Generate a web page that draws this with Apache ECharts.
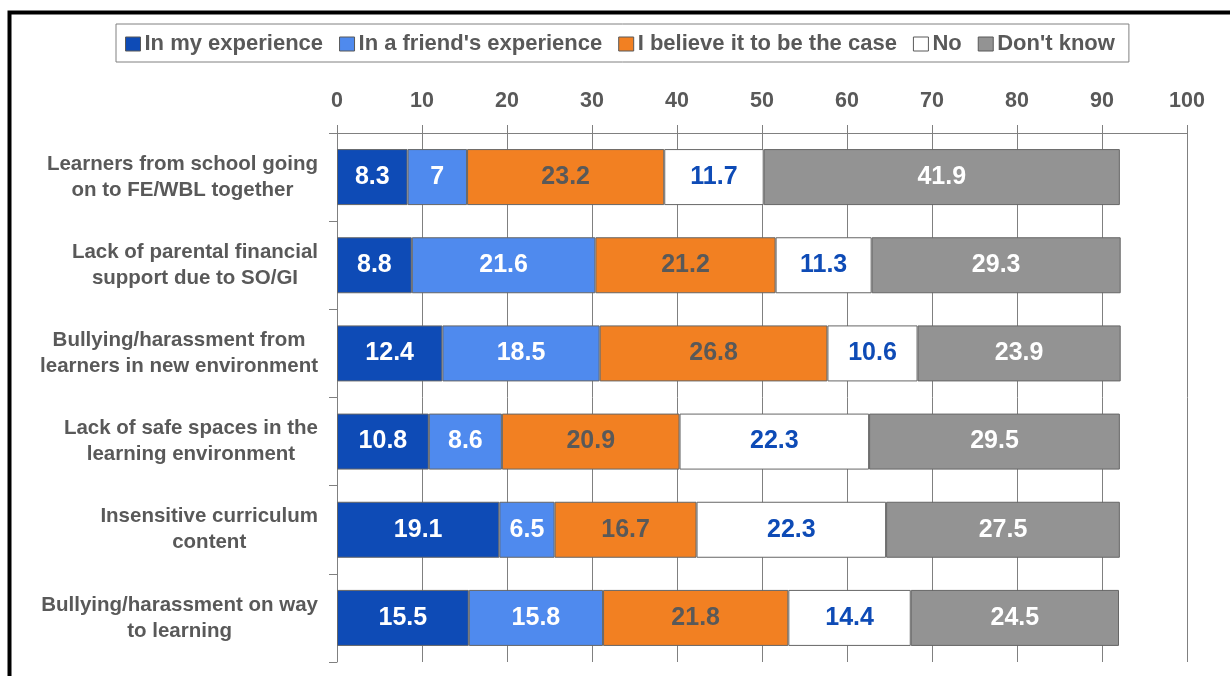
<!DOCTYPE html>
<html><head><meta charset="utf-8">
<script src="https://cdn.jsdelivr.net/npm/echarts@6/dist/echarts.min.js"></script>
<style>html,body{margin:0;padding:0;background:#fff}#c{width:1230px;height:676px}</style>
</head><body><div id="c"></div>
<script>
const categories = [
  'Learners from school going\non to FE/WBL together',
  'Lack of parental financial\nsupport due to SO/GI',
  'Bullying/harassment from\nlearners in new environment',
  'Lack of safe spaces in the\nlearning environment',
  'Insensitive curriculum\ncontent',
  'Bullying/harassment on way\nto learning'
];
const seriesNames = ['In my experience', "In a friend's experience", 'I believe it to be the case', 'No', "Don't know"];
const myExperience = [8.3, 8.8, 12.4, 10.8, 19.1, 15.5];
const friendExperience = [7, 21.6, 18.5, 8.6, 6.5, 15.8];
const believeCase = [23.2, 21.2, 26.8, 20.9, 16.7, 21.8];
const noValues = [11.7, 11.3, 10.6, 22.3, 22.3, 14.4];
const dontKnow = [41.9, 29.3, 23.9, 29.5, 27.5, 24.5];
const xTicks = [0, 10, 20, 30, 40, 50, 60, 70, 80, 90, 100];

const values = [myExperience, friendExperience, believeCase, noValues, dontKnow];
const fills = ['#0e4bb6', '#4f8aee', '#f28022', '#ffffff', '#939393'];
const labelColors = ['#ffffff', '#ffffff', '#595959', '#0e4bb6', '#ffffff'];
const FONT = '"Liberation Sans", Arial, sans-serif';
const GREY = '#808080';

const chart = echarts.init(document.getElementById('c'), null, {renderer: 'canvas'});
chart.setOption({
  animation: false,
  backgroundColor: '#ffffff',
  textStyle: {fontFamily: FONT},
  graphic: [{
    type: 'rect', silent: true, z: 100,
    shape: {x: 9.5, y: 12.5, width: 2000, height: 2000},
    style: {fill: 'none', stroke: '#000000', lineWidth: 4}
  }],
  legend: {
    left: 116, top: 24,
    padding: [9, 14, 7, 9],
    borderColor: GREY, borderWidth: 1,
    itemWidth: 15, itemHeight: 14, itemGap: 16,
    icon: 'rect',
    itemStyle: {borderColor: '#595959', borderWidth: 1},
    textStyle: {fontFamily: FONT, fontWeight: 'bold', fontSize: 22, color: '#595959', padding: [0, 0, 0, -1]},
    data: seriesNames
  },
  grid: {left: 337, right: 43, top: 133, bottom: 14, containLabel: false},
  xAxis: {
    type: 'value', position: 'top', min: 0, max: 100, interval: 10,
    axisLine: {show: true, lineStyle: {color: GREY, width: 1}},
    axisTick: {show: true, length: 8, lineStyle: {color: GREY, width: 1}},
    splitLine: {show: true, lineStyle: {color: GREY, width: 1}},
    axisLabel: {
      margin: 21, fontFamily: FONT, fontWeight: 'bold', fontSize: 21.5, color: '#595959',
      formatter: v => xTicks.includes(v) ? String(v) : ''
    }
  },
  yAxis: {
    type: 'category', inverse: true, data: categories,
    axisLine: {show: true, lineStyle: {color: GREY, width: 1}},
    axisTick: {show: true, length: 8, lineStyle: {color: GREY}},
    axisLabel: {
      margin: 19,
      formatter: v => v.split('\n').map(s => '{a|' + s + '}').join('\n'),
      rich: {a: {align: 'center', fontFamily: FONT, fontWeight: 'bold', fontSize: 20.5, color: '#595959', lineHeight: 26}}
    }
  },
  series: values.map((arr, i) => ({
    name: seriesNames[i], type: 'bar', stack: 'total', barWidth: 56,
    data: arr,
    itemStyle: {color: fills[i], borderColor: '#666666', borderWidth: 1},
    label: {
      show: true, position: 'inside', fontFamily: FONT, fontWeight: 'bold', fontSize: 25,
      color: labelColors[i], formatter: p => String(p.value)
    }
  }))
});
</script></body></html>
